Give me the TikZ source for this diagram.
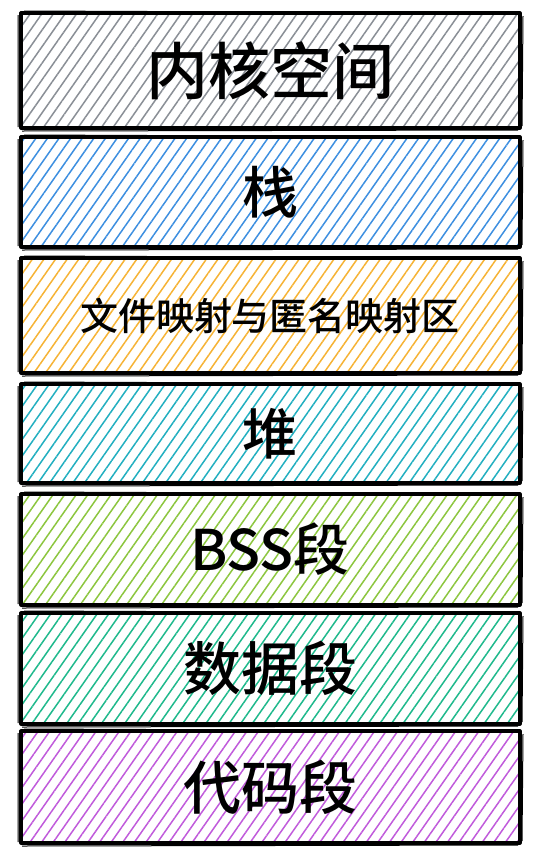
\documentclass[tikz,border=0pt]{standalone}
\usepackage{fontspec}
\setmainfont{Noto Sans CJK SC}[UprightFont=* Medium]
\usetikzlibrary{patterns.meta}
\definecolor{hgray}{HTML}{8A8F96}
\definecolor{hblue}{HTML}{3D8FE0}
\definecolor{hyellow}{HTML}{F6B335}
\definecolor{hcyan}{HTML}{22AFC0}
\definecolor{hlime}{HTML}{8CC63F}
\definecolor{hteal}{HTML}{1FB98C}
\definecolor{hgrape}{HTML}{C05BDB}
\tikzset{
  seg/.style={draw=black,line width=3.2pt,line join=round,
    pattern={Lines[angle=55,distance=9.5pt,line width=1.5pt]}},
  sketch/.style={draw=black,line width=1pt},
  lbl/.style={font=\fontsize{#1}{#1}\selectfont,inner sep=0pt}
}
\begin{document}
\begin{tikzpicture}[x=1pt,y=-1pt]
	\useasboundingbox (0,0) rectangle (539,852);
	% segments: name/top/bottom/colour/size/text
	\foreach \n/\t/\b/\c/\s/\txt in {core/13/128/hgray/62/内核空间,
		stack/137/247/hblue/56/栈,
		mmap/258/373/hyellow/38/文件映射与匿名映射区,
		heap/384/483/hcyan/55/堆,
		bss/494/605/hlime/56/BSS段,
		data/613/724/hteal/58/数据段,
		text/731/843/hgrape/58/代码段}{
	\path[seg,pattern color=\c] (21,\t) rectangle (520,\b);
	\draw[sketch] (18,{\t+2}) -- (18,{\b-1}) (22,{\b+3}) -- (518,{\b+2});
	\draw[sketch] (24,{\t-2}) -- (521,{\t}) (523,{\t+3}) -- (522,{\b-2});
	\node[lbl=\s] (\n) at (270,{(\t+\b)/2}) {\txt};
	}
\end{tikzpicture}
\end{document}
